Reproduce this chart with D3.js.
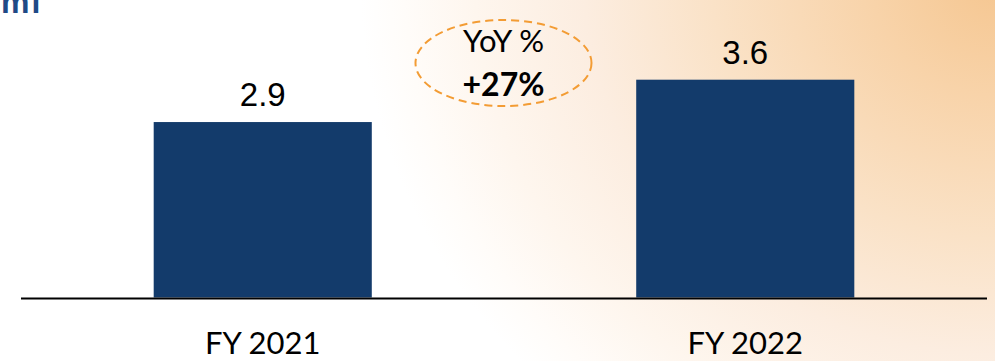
<!DOCTYPE html>
<html>
<head>
<meta charset="utf-8">
<script src="https://cdn.jsdelivr.net/npm/d3@7"></script>
<style>
  html, body { margin: 0; padding: 0; background: #fff; }
  svg { display: block; }
</style>
</head>
<body>
<svg id="chart" width="995" height="361"></svg>
<script>
// Revenue by fiscal year
const categories = ["FY 2021", "FY 2022"];
const values = [2.9, 3.6];
const valueLabels = ["2.9", "3.6"];
const yoyTitle = "YoY %";
const yoyValue = "+27%";
const unitLabel = "mi";

const W = 995, H = 361;
const svg = d3.select("#chart");
const defs = svg.append("defs");

// warm glow coming in from the upper right
const glow = defs.append("radialGradient")
  .attr("id", "glow")
  .attr("gradientUnits", "userSpaceOnUse")
  .attr("cx", 1000).attr("cy", -20).attr("r", 640)
  .attr("gradientTransform", "translate(1000,-20) scale(1,0.9) translate(-1000,20)");
[[0, "#f5c690"], [0.2, "#f8d3a9"], [0.45, "#fae2c7"], [0.65, "#fcede0"], [0.82, "#fef6ee"], [0.93, "#fffcf9"], [1, "#ffffff"]]
  .forEach(([o, c]) => glow.append("stop").attr("offset", o).attr("stop-color", c));

svg.append("rect").attr("width", W).attr("height", H).attr("fill", "#fff");
svg.append("rect").attr("width", W).attr("height", H).attr("fill", "url(#glow)");

// unit caption at the top left, running off the top edge
svg.append("text")
  .attr("x", 1).attr("y", 12.5)
  .attr("font-family", "Liberation Sans, Arial, sans-serif")
  .attr("font-weight", "bold")
  .attr("font-size", 32)
  .attr("letter-spacing", 2)
  .attr("fill", "#1f4a86")
  .text(unitLabel);

const x = d3.scaleBand()
  .domain(categories)
  .range([21, 987])
  .paddingInner(0.548)
  .paddingOuter(0.275);

const y = d3.scaleLinear()
  .domain([0, 4])
  .range([297.5, 55.5]);

// bars
svg.append("g").selectAll("rect")
  .data(values)
  .join("rect")
  .attr("x", (d, i) => x(categories[i]))
  .attr("y", d => y(d))
  .attr("width", x.bandwidth())
  .attr("height", d => y(0) - y(d))
  .attr("fill", "#133b6b");

// value labels
svg.append("g").selectAll("text")
  .data(values)
  .join("text")
  .attr("x", (d, i) => x(categories[i]) + x.bandwidth() / 2)
  .attr("y", d => y(d) - 16)
  .attr("text-anchor", "middle")
  .attr("font-family", "Liberation Sans, Arial, sans-serif")
  .attr("font-size", 33)
  .attr("fill", "#000")
  .text((d, i) => valueLabels[i]);

// baseline axis
const axis = svg.append("g")
  .attr("transform", `translate(0,${y(0) + 1})`)
  .call(d3.axisBottom(x).tickSize(0).tickPadding(0));
axis.select(".domain")
  .attr("d", "M21,0H987")
  .attr("stroke", "#000")
  .attr("stroke-width", 2);
axis.selectAll(".tick text")
  .attr("dy", 0)
  .attr("y", 55)
  .attr("font-family", "Lato, 'Open Sans', sans-serif")
  .attr("font-size", 31)
  .attr("fill", "#000");

// year-over-year callout
const cx = 503.5, cy = 63;
svg.append("ellipse")
  .attr("cx", cx).attr("cy", cy)
  .attr("rx", 88).attr("ry", 43)
  .attr("fill", "none")
  .attr("stroke", "#f39c34")
  .attr("stroke-width", 2)
  .attr("stroke-dasharray", "8,5");

svg.append("text")
  .attr("x", cx).attr("y", 51.5)
  .attr("text-anchor", "middle")
  .attr("font-family", "Lato, 'Open Sans', sans-serif")
  .attr("font-size", 31)
  .attr("fill", "#000")
  .text(yoyTitle);

svg.append("text")
  .attr("x", cx).attr("y", 96)
  .attr("text-anchor", "middle")
  .attr("font-family", "Lato, 'Open Sans', sans-serif")
  .attr("font-weight", "bold")
  .attr("font-size", 32)
  .attr("fill", "#000")
  .text(yoyValue);
</script>
</body>
</html>
